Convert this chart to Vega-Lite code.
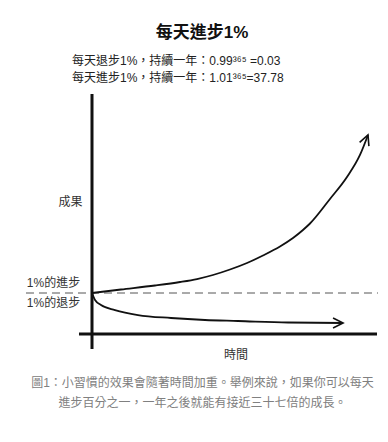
{
  "$schema": "https://vega.github.io/schema/vega-lite/v6.json",
  "width": 388,
  "height": 442,
  "autosize": {"type": "fit", "contains": "padding"},
  "padding": 0,
  "background": "white",
  "config": {"view": {"stroke": null}},
  "datasets": {
    "curves": [
      {"series": "進步", "t": 0, "v": 1.0},
      {"series": "進步", "t": 38.35, "v": 1.085},
      {"series": "進步", "t": 83.3, "v": 1.183},
      {"series": "進步", "t": 116.4, "v": 1.268},
      {"series": "進步", "t": 138.9, "v": 1.341},
      {"series": "進步", "t": 160.0, "v": 1.439},
      {"series": "進步", "t": 182.5, "v": 1.573},
      {"series": "進步", "t": 205.0, "v": 1.732},
      {"series": "進步", "t": 226.1, "v": 1.915},
      {"series": "進步", "t": 248.6, "v": 2.134},
      {"series": "進步", "t": 265.8, "v": 2.341},
      {"series": "進步", "t": 279.0, "v": 2.537},
      {"series": "進步", "t": 288.3, "v": 2.695},
      {"series": "進步", "t": 314.7, "v": 3.293},
      {"series": "進步", "t": 337.2, "v": 3.829},
      {"series": "進步", "t": 354.4, "v": 4.366},
      {"series": "進步", "t": 365.0, "v": 4.854},
      {"series": "退步", "t": 0, "v": 1.0},
      {"series": "退步", "t": 4.0, "v": 0.829},
      {"series": "退步", "t": 11.9, "v": 0.707},
      {"series": "退步", "t": 30.4, "v": 0.585},
      {"series": "退步", "t": 60.8, "v": 0.463},
      {"series": "退步", "t": 104.5, "v": 0.39},
      {"series": "退步", "t": 149.4, "v": 0.341},
      {"series": "退步", "t": 193.1, "v": 0.317},
      {"series": "退步", "t": 259.2, "v": 0.28},
      {"series": "退步", "t": 332.0, "v": 0.268}
    ],
    "frame": [
      {"part": "y", "t": 0, "t2": 0, "v": -0.366, "v2": 5.854},
      {"part": "x", "t": -17.2, "t2": 376.9, "v": 0, "v2": 0}
    ],
    "baseline": [
      {"t": -87.3, "t2": 378.2, "v": 1}
    ],
    "labels": [
      {"role": "heading", "text": "每天進步1%", "t": 145.5, "v": 7.341},
      {"role": "sub", "text": "每天退步1%，持續一年：0.99³⁶⁵ =0.03", "t": -26.45, "v": 6.659},
      {"role": "sub", "text": "每天進步1%，持續一年：1.01³⁶⁵=37.78", "t": -26.45, "v": 6.256},
      {"role": "axis", "text": "成果", "t": -28.4, "v": 3.22},
      {"role": "axis", "text": "時間", "t": 190.4, "v": -0.512},
      {"role": "axis", "text": "1%的進步", "t": -50.9, "v": 1.244},
      {"role": "axis", "text": "1%的退步", "t": -50.9, "v": 0.756},
      {"role": "caption", "text": "圖1：小習慣的效果會隨著時間加重。舉例來說，如果你可以每天", "t": 146.1, "v": -1.207},
      {"role": "caption", "text": "進步百分之一，一年之後就能有接近三十七倍的成長。", "t": 146.1, "v": -1.671}
    ]
  },
  "encoding": {
    "x": {"field": "t", "type": "quantitative", "axis": null, "scale": {"domain": [-121.67, 391.45], "nice": false, "zero": false}},
    "y": {"field": "v", "type": "quantitative", "axis": null, "scale": {"domain": [-2.6341, 8.1463], "nice": false, "zero": false}}
  },
  "layer": [
    {
      "data": {"name": "baseline"},
      "mark": {"type": "rule", "color": "#555555", "strokeWidth": 1, "strokeDash": [8, 5]},
      "encoding": {"x2": {"field": "t2"}}
    },
    {
      "data": {"name": "frame"},
      "mark": {"type": "rule", "color": "#111111", "strokeWidth": 3, "strokeCap": "butt"},
      "encoding": {"x2": {"field": "t2"}, "y2": {"field": "v2"}}
    },
    {
      "data": {"name": "curves"},
      "mark": {"type": "line", "color": "#111111", "strokeWidth": 1.8, "interpolate": "monotone"},
      "encoding": {"detail": {"field": "series"}, "order": {"field": "t", "type": "quantitative"}}
    },
    {
      "data": {"name": "curves"},
      "transform": [{"filter": "datum.series === '進步' && datum.t === 365"}],
      "mark": {"type": "point", "shape": "M-2,-1L0,0L-2,1", "size": 100, "filled": false, "stroke": "#111111", "strokeWidth": 1.6, "opacity": 1, "angle": 292}
    },
    {
      "data": {"name": "curves"},
      "transform": [{"filter": "datum.series === '退步' && datum.t === 332"}],
      "mark": {"type": "point", "shape": "M-2,-1L0,0L-2,1", "size": 100, "filled": false, "stroke": "#111111", "strokeWidth": 1.6, "opacity": 1, "angle": 0}
    },
    {
      "data": {"name": "labels"},
      "transform": [{"filter": "datum.role === 'heading'"}],
      "mark": {"type": "text", "font": "Liberation Sans, Noto Sans CJK TC", "fontSize": 17, "fontWeight": "bold", "align": "center", "baseline": "middle", "color": "#111111"},
      "encoding": {"text": {"field": "text"}}
    },
    {
      "data": {"name": "labels"},
      "transform": [{"filter": "datum.role === 'sub'"}],
      "mark": {"type": "text", "font": "Liberation Sans, Noto Sans CJK TC", "fontSize": 12, "align": "left", "baseline": "middle", "color": "#222222"},
      "encoding": {"text": {"field": "text"}}
    },
    {
      "data": {"name": "labels"},
      "transform": [{"filter": "datum.role === 'axis'"}],
      "mark": {"type": "text", "font": "Liberation Sans, Noto Sans CJK TC", "fontSize": 12, "align": "center", "baseline": "middle", "color": "#333333"},
      "encoding": {"text": {"field": "text"}}
    },
    {
      "data": {"name": "labels"},
      "transform": [{"filter": "datum.role === 'caption'"}],
      "mark": {"type": "text", "font": "Liberation Sans, Noto Sans CJK TC", "fontSize": 12, "align": "center", "baseline": "middle", "color": "#808080"},
      "encoding": {"text": {"field": "text"}}
    }
  ]
}
